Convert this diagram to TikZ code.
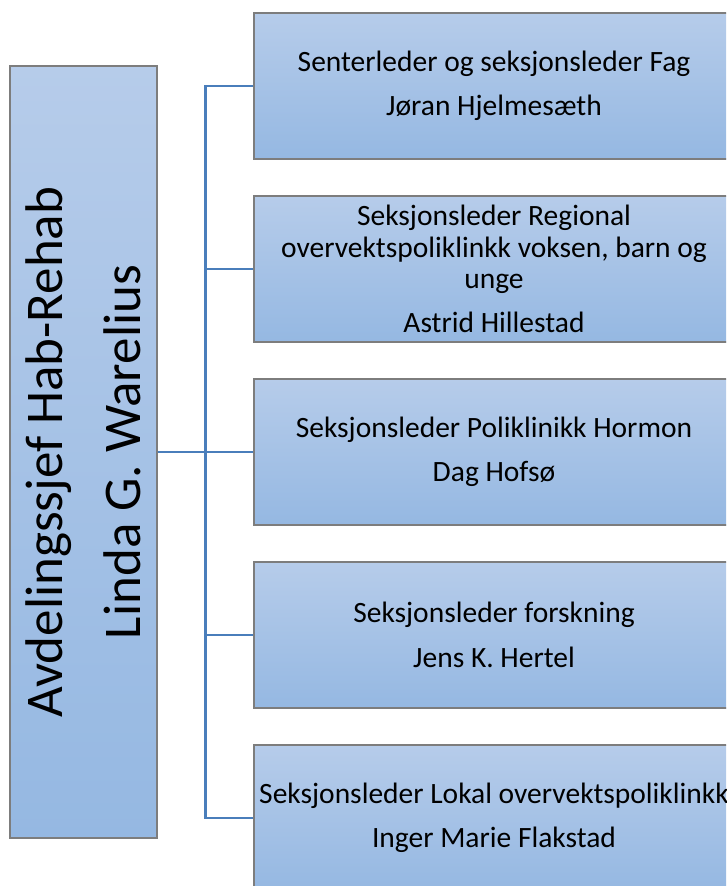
\documentclass[tikz,border=0pt]{standalone}
\usepackage{fontspec}
\setmainfont{Carlito}
\definecolor{boxtop}{RGB}{182,204,234}
\definecolor{boxbot}{RGB}{149,184,226}
\definecolor{boxline}{RGB}{125,125,125}
\definecolor{linkblue}{RGB}{74,126,187}
\tikzset{
  unit/.style={draw=boxline,line width=1.2pt,top color=boxtop,bottom color=boxbot,
    minimum width=480pt,minimum height=146pt,inner sep=0pt,align=center,
    font=\fontsize{29.5}{35.5}\selectfont},
  link/.style={draw=linkblue,line width=2.5pt}
}

\begin{document}
\begin{tikzpicture}[x=1pt,y=-1pt]
			\clip (0,0) rectangle (726,886);
			\node[unit,rotate=90,minimum width=772pt,minimum height=147pt,
			  font=\fontsize{53}{64}\selectfont] (lead) at (83.5,452) {Avdelingssjef Hab-Rehab\\[14pt]Linda G. Warelius};
			\node[unit] (sec1) at (494,86) {Senterleder og seksjonsleder Fag\\[9pt]Jøran Hjelmesæth};
			\node[unit,font=\fontsize{29.5}{31.5}\selectfont] (sec2) at (494,269) {Seksjonsleder Regional\\overvektspoliklinkk voksen, barn og\\unge\\[12.5pt]Astrid Hillestad};
			\node[unit] (sec3) at (494,452) {Seksjonsleder Poliklinikk Hormon\\[9pt]Dag Hofsø};
			\node[unit] (sec4) at (494,635) {Seksjonsleder forskning\\[9pt]Jens K. Hertel};
			\node[unit] (sec5) at (494,818) {Seksjonsleder Lokal overvektspoliklinkk\\[9pt]Inger Marie Flakstad};
			\coordinate (trunk) at (205.5,0);
			\draw[link] (sec1.west) -- (sec1.west -| trunk) -- (sec5.west -| trunk) -- (sec5.west);
			\foreach \i in {2,4}
				\draw[link] (sec\i.west) -- (sec\i.west -| trunk);
			\draw[link] (lead) -- (sec3.west);
		\end{tikzpicture}
\end{document}
